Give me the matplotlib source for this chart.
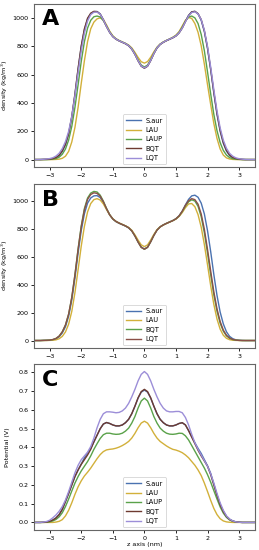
import numpy as np
import matplotlib
matplotlib.use("Agg")
import matplotlib.pyplot as plt

# z grid (nm), -3.5 .. 3.5 step 0.1
z = np.round(np.linspace(-3.5, 3.5, 71), 2)

# ---------------- Panel A : density (kg/m3) ----------------
A_labels = ["S.aur", "LAU", "LAUP", "BQT", "LQT"]
A_saur = [0, 0, 0, 1, 1, 2, 5, 12, 28, 58, 105, 180, 300, 460, 640, 800, 920, 995, 1032, 1046,
          1047, 1030, 990, 942, 900, 870, 852, 840, 830, 820, 806, 782, 745, 700, 662, 648,
          662, 702, 750, 790, 815, 830, 842, 852, 862, 875, 897, 932, 978, 1020, 1045, 1048,
          1030, 985, 905, 785, 635, 470, 320, 200, 115, 60, 28, 12, 5, 2, 1, 0, 0, 0, 0]
A_lau = [0, 0, 0, 0, 0, 0, 0, 1, 3, 9, 24, 58, 125, 228, 370, 540, 700, 835, 925, 972,
         995, 1002, 990, 952, 908, 875, 855, 842, 832, 822, 810, 790, 758, 722, 692, 682,
         693, 724, 762, 795, 817, 832, 843, 853, 865, 880, 905, 945, 985, 1005, 998, 962,
         900, 805, 675, 530, 390, 255, 150, 75, 32, 12, 4, 1, 0, 0, 0, 0, 0, 0, 0]
A_laup = [0, 0, 0, 0, 0, 1, 3, 7, 17, 38, 75, 138, 235, 370, 530, 695, 835, 930, 985, 1010,
          1015, 1008, 982, 945, 903, 872, 853, 841, 831, 821, 807, 784, 748, 705, 668, 655,
          668, 706, 753, 792, 816, 831, 842, 852, 863, 877, 900, 937, 980, 1008, 1015, 1002,
          962, 885, 770, 620, 465, 320, 205, 120, 65, 32, 14, 6, 2, 1, 0, 0, 0, 0, 0]
A_bqt = [0, 0, 0, 1, 2, 3, 7, 15, 32, 62, 110, 185, 305, 465, 645, 805, 925, 1000, 1035, 1048,
         1046, 1028, 988, 940, 899, 869, 851, 839, 829, 819, 805, 781, 744, 698, 660, 646,
         660, 700, 749, 789, 814, 829, 841, 851, 861, 874, 896, 930, 976, 1018, 1044, 1048,
         1032, 990, 910, 792, 642, 478, 328, 208, 122, 65, 32, 15, 7, 3, 1, 0, 0, 0, 0]
A_lqt = [0, 0, 1, 2, 4, 7, 13, 25, 45, 78, 128, 200, 305, 450, 615, 770, 895, 980, 1025, 1042,
         1043, 1027, 988, 941, 900, 870, 852, 840, 830, 820, 806, 782, 745, 700, 662, 649,
         662, 701, 750, 790, 815, 830, 842, 852, 862, 875, 897, 930, 975, 1015, 1040, 1045,
         1030, 990, 915, 800, 655, 495, 345, 225, 138, 80, 44, 24, 12, 6, 3, 1, 0, 0, 0]

# ---------------- Panel B : density (kg/m3) ----------------
B_labels = ["S.aur", "LAU", "BQT", "LQT"]
B_saur = [0, 0, 0, 1, 1, 2, 5, 12, 27, 55, 100, 175, 292, 450, 630, 792, 912, 988, 1025, 1040,
          1042, 1028, 992, 945, 903, 873, 855, 843, 833, 823, 810, 788, 752, 710, 672, 658,
          672, 712, 757, 795, 818, 832, 843, 853, 863, 876, 897, 930, 975, 1015, 1040, 1045,
          1030, 988, 910, 790, 640, 475, 325, 205, 120, 63, 30, 13, 5, 2, 1, 0, 0, 0, 0]
B_lau = [0, 0, 0, 0, 0, 1, 2, 5, 13, 30, 62, 118, 210, 345, 510, 680, 822, 925, 985, 1013,
         1020, 1010, 982, 942, 903, 875, 857, 845, 835, 825, 813, 793, 760, 722, 688, 675,
         688, 723, 763, 797, 818, 831, 842, 852, 862, 873, 892, 920, 955, 982, 985, 962,
         905, 815, 690, 545, 395, 260, 155, 82, 38, 16, 6, 2, 1, 0, 0, 0, 0, 0, 0]
B_bqt = [0, 0, 0, 1, 2, 3, 7, 15, 32, 63, 112, 190, 310, 475, 660, 825, 950, 1025, 1060, 1072,
         1068, 1045, 1002, 950, 905, 874, 856, 844, 834, 824, 811, 789, 752, 708, 670, 656,
         670, 710, 756, 794, 817, 831, 842, 852, 862, 875, 895, 928, 968, 998, 1012, 1003,
         965, 890, 775, 630, 475, 330, 212, 125, 68, 34, 16, 7, 3, 1, 0, 0, 0, 0, 0]
B_lqt = [0, 0, 0, 1, 2, 3, 7, 15, 32, 63, 112, 190, 310, 472, 655, 818, 940, 1015, 1050, 1062,
         1058, 1038, 998, 948, 904, 874, 856, 844, 834, 824, 811, 789, 752, 708, 670, 657,
         670, 710, 756, 794, 817, 831, 842, 852, 862, 875, 896, 930, 972, 1005, 1020, 1013,
         980, 910, 800, 655, 500, 350, 228, 137, 75, 38, 18, 8, 3, 1, 0, 0, 0, 0, 0]

# ---------------- Panel C : potential (V) ----------------
C_labels = ["S.aur", "LAU", "LAUP", "BQT", "LQT"]
C_saur = [0, 0, 0, 0.001, 0.002, 0.006, 0.013, 0.024, 0.042, 0.07, 0.112, 0.155, 0.2, 0.245,
          0.28, 0.312, 0.345, 0.37, 0.395, 0.43, 0.465, 0.5, 0.525, 0.533, 0.528, 0.52, 0.515,
          0.515, 0.52, 0.532, 0.55, 0.58, 0.62, 0.663, 0.695, 0.706,
          0.695, 0.663, 0.62, 0.58, 0.55, 0.532, 0.52, 0.515, 0.515, 0.52, 0.528, 0.532, 0.52,
          0.49, 0.457, 0.425, 0.395, 0.368, 0.335, 0.302, 0.262, 0.205, 0.147, 0.097, 0.06,
          0.033, 0.017, 0.008, 0.003, 0.001, 0, 0, 0, 0, 0]
C_lau = [0, 0, 0, 0, 0, 0, 0, 0.002, 0.006, 0.015, 0.035, 0.065, 0.105, 0.15, 0.19, 0.222,
         0.248, 0.268, 0.29, 0.315, 0.34, 0.362, 0.378, 0.387, 0.39, 0.392, 0.396, 0.402, 0.41,
         0.42, 0.432, 0.45, 0.475, 0.505, 0.53, 0.54,
         0.53, 0.505, 0.475, 0.45, 0.432, 0.42, 0.408, 0.398, 0.39, 0.386, 0.38, 0.372, 0.36,
         0.345, 0.325, 0.305, 0.28, 0.25, 0.21, 0.165, 0.118, 0.075, 0.042, 0.02, 0.008,
         0.003, 0.001, 0, 0, 0, 0, 0, 0, 0, 0]
C_laup = [0, 0, 0, 0, 0.001, 0.003, 0.008, 0.016, 0.03, 0.052, 0.085, 0.125, 0.168, 0.21,
          0.245, 0.275, 0.3, 0.325, 0.355, 0.39, 0.42, 0.448, 0.468, 0.476, 0.476, 0.472, 0.47,
          0.471, 0.476, 0.487, 0.503, 0.53, 0.565, 0.61, 0.648, 0.663,
          0.648, 0.61, 0.565, 0.53, 0.503, 0.487, 0.476, 0.471, 0.47, 0.472, 0.476, 0.475,
          0.462, 0.44, 0.41, 0.38, 0.35, 0.32, 0.29, 0.255, 0.215, 0.17, 0.125, 0.083, 0.05,
          0.027, 0.013, 0.006, 0.002, 0.001, 0, 0, 0, 0, 0]
C_bqt = [0, 0, 0, 0.001, 0.002, 0.006, 0.013, 0.024, 0.042, 0.07, 0.112, 0.155, 0.2, 0.245,
         0.28, 0.31, 0.335, 0.36, 0.39, 0.43, 0.465, 0.5, 0.525, 0.533, 0.528, 0.52, 0.515,
         0.515, 0.52, 0.532, 0.55, 0.58, 0.62, 0.665, 0.698, 0.71,
         0.698, 0.665, 0.62, 0.58, 0.55, 0.532, 0.52, 0.515, 0.515, 0.52, 0.528, 0.532, 0.52,
         0.49, 0.455, 0.42, 0.385, 0.355, 0.328, 0.3, 0.255, 0.2, 0.145, 0.095, 0.058, 0.032,
         0.016, 0.007, 0.003, 0.001, 0, 0, 0, 0, 0]
C_lqt = [0, 0, 0, 0.002, 0.005, 0.012, 0.025, 0.04, 0.06, 0.085, 0.12, 0.165, 0.215, 0.265,
         0.305, 0.335, 0.355, 0.375, 0.405, 0.45, 0.505, 0.55, 0.58, 0.59, 0.59, 0.588, 0.585,
         0.587, 0.595, 0.61, 0.635, 0.67, 0.71, 0.755, 0.79, 0.805,
         0.79, 0.755, 0.71, 0.67, 0.635, 0.61, 0.595, 0.59, 0.59, 0.592, 0.592, 0.585, 0.56,
         0.52, 0.47, 0.425, 0.39, 0.36, 0.33, 0.3, 0.26, 0.21, 0.155, 0.105, 0.065, 0.035,
         0.018, 0.008, 0.003, 0.001, 0, 0, 0, 0, 0]

col_blue = "#4a72b0"
col_gold = "#d2b03a"
col_green = "#5aa24a"
col_brown = "#6e3a30"
col_purple = "#9c8ed8"

A_colors = [col_blue, col_gold, col_green, col_brown, col_purple]
B_colors = [col_blue, col_gold, col_green, "#8a4f47"]
C_colors = [col_blue, col_gold, col_green, col_brown, col_purple]

W, H = 259, 550
fig = plt.figure(figsize=(W / 100, H / 100), dpi=100)

fs_tick = 4.6
fs_label = 4.6
fs_leg = 4.8


def panel(rect, series, labels, colors, letter, ylabel, yticks, xlabel=None):
    ax = fig.add_axes(rect)
    for s, lab, c in zip(series, labels, colors):
        n = len(s)
        ax.plot(z[:n], s, color=c, lw=1.0, label=lab)
    ax.set_xlim(-3.5, 3.5)
    ax.set_xticks([-3, -2, -1, 0, 1, 2, 3])
    ax.set_yticks(yticks)
    ax.tick_params(labelsize=fs_tick, length=2.5, width=0.6, pad=1.5)
    for sp in ax.spines.values():
        sp.set_color("#666666")
        sp.set_linewidth(0.8)
    ax.set_ylabel(ylabel, fontsize=fs_label)
    ax.yaxis.set_label_coords(-0.108, 0.5)
    if xlabel:
        ax.set_xlabel(xlabel, fontsize=fs_label, labelpad=1)
    ax.text(0.075, 0.905, letter, transform=ax.transAxes, fontsize=16, fontweight="bold",
            ha="center", va="center")
    leg = ax.legend(loc="lower center", fontsize=fs_leg, handlelength=2.2, borderpad=0.5,
                    labelspacing=0.5, handletextpad=0.7, framealpha=1, borderaxespad=0.4)
    leg.get_frame().set_linewidth(0.5)
    return ax


panel([0.131, 0.6964, 0.853, 0.2964], [A_saur, A_lau, A_laup, A_bqt, A_lqt], A_labels,
      A_colors, "A", "density (kg/m$^3$)", [0, 200, 400, 600, 800, 1000])
panel([0.131, 0.3673, 0.853, 0.2982], [B_saur, B_lau, B_bqt, B_lqt], B_labels,
      B_colors, "B", "density (kg/m$^3$)", [0, 200, 400, 600, 800, 1000])
panel([0.131, 0.0364, 0.853, 0.3018], [C_saur, C_lau, C_laup, C_bqt, C_lqt], C_labels,
      C_colors, "C", "Potential (V)", [0.0, 0.1, 0.2, 0.3, 0.4, 0.5, 0.6, 0.7, 0.8],
      xlabel="z axis (nm)")

fig.savefig("out.png", dpi=100)
